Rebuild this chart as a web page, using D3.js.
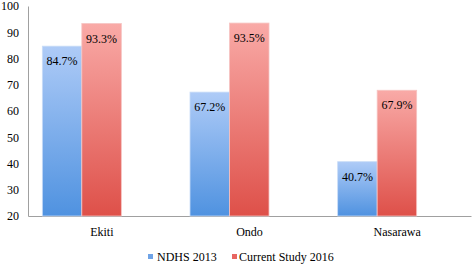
<!DOCTYPE html>
<html>
<head>
<meta charset="utf-8">
<script src="https://cdn.jsdelivr.net/npm/d3@7"></script>
<style>
  body { margin: 0; background: #fff; }
  svg { display: block; }
  svg text { font-family: "Liberation Serif", "Times New Roman", serif; }
</style>
</head>
<body>
<div id="chart"></div>
<script>
const categories = ["Ekiti", "Ondo", "Nasarawa"];
const seriesNames = ["NDHS 2013", "Current Study 2016"];
const ndhs2013 = [84.7, 67.2, 40.7];
const study2016 = [93.3, 93.5, 67.9];
const yTicks = [20, 30, 40, 50, 60, 70, 80, 90, 100];

const width = 472, height = 266;
const margin = {top: 6, right: 1, bottom: 50, left: 28};
const serif = "Liberation Serif";
const fontSize = 12;

const svg = d3.select("#chart").append("svg")
    .attr("width", width)
    .attr("height", height);

const defs = svg.append("defs");
const gradients = [
    {id: "gBlue", top: "#aecbf7", bottom: "#4f92e0"},
    {id: "gRed", top: "#f9aaa7", bottom: "#de5049"}
];
gradients.forEach(g => {
    const lg = defs.append("linearGradient").attr("id", g.id)
        .attr("x1", 0).attr("y1", 0).attr("x2", 0).attr("y2", 1);
    lg.append("stop").attr("offset", "0%").attr("stop-color", g.top);
    lg.append("stop").attr("offset", "100%").attr("stop-color", g.bottom);
});
const fills = ["url(#gBlue)", "url(#gRed)"];
const strokes = ["#c9dcf7", "#f6c4c2"];

const x = d3.scaleBand()
    .domain(categories)
    .range([margin.left, width - margin.right]);

const y = d3.scaleLinear()
    .domain([20, 100])
    .range([height - margin.bottom, margin.top]);

// group of bars sits a bit left of the category centre, like the original
const groupWidth = 79;
const shift = -20;
const xs = d3.scaleBand()
    .domain(seriesNames)
    .range([0, groupWidth]);

// y axis
const yAxis = svg.append("g")
    .attr("transform", `translate(${margin.left},0)`)
    .call(d3.axisLeft(y).tickValues(yTicks).tickSize(0).tickPadding(9));
yAxis.attr("font-family", serif);
yAxis.select(".domain").attr("stroke", "#a0a0a0");
yAxis.selectAll("text").attr("font-size", fontSize).attr("fill", "#000");

// x axis
const xAxis = svg.append("g")
    .attr("transform", `translate(0,${y(20)})`)
    .call(d3.axisBottom(x).tickSize(0).tickPadding(11));
xAxis.attr("font-family", serif);
xAxis.select(".domain").attr("stroke", "#a0a0a0");
xAxis.selectAll("text").attr("font-size", fontSize).attr("fill", "#000");

const data = categories.map((c, i) => ({
    category: c,
    values: [ndhs2013[i], study2016[i]]
}));

const groups = svg.selectAll(".grp")
    .data(data)
    .enter().append("g")
    .attr("class", "grp")
    .attr("transform", d => `translate(${x(d.category) + x.bandwidth() / 2 - groupWidth / 2 + shift},0)`);

groups.selectAll("rect")
    .data(d => d.values.map((v, j) => ({series: seriesNames[j], value: v, j: j})))
    .enter().append("rect")
    .attr("x", d => xs(d.series))
    .attr("y", d => y(d.value))
    .attr("width", xs.bandwidth())
    .attr("height", d => y(20) - y(d.value))
    .attr("fill", d => fills[d.j])
    .attr("stroke", d => strokes[d.j])
    .attr("stroke-width", 0.8);

groups.selectAll("text.val")
    .data(d => d.values.map((v, j) => ({series: seriesNames[j], value: v})))
    .enter().append("text")
    .attr("class", "val")
    .attr("x", d => xs(d.series) + xs.bandwidth() / 2)
    .attr("y", d => y(d.value) + 19)
    .attr("text-anchor", "middle")
    .attr("font-family", serif)
    .attr("font-size", fontSize)
    .attr("fill", "#000")
    .text(d => d.value.toFixed(1) + "%");

// legend
const legendX = [148, 232];
const legendY = 261;
const legend = svg.selectAll(".leg")
    .data(seriesNames)
    .enter().append("g")
    .attr("class", "leg")
    .attr("transform", (d, i) => `translate(${legendX[i]},${legendY})`);
legend.append("rect")
    .attr("x", 0).attr("y", -7)
    .attr("width", 5).attr("height", 5)
    .attr("fill", (d, i) => i === 0 ? "#6fa3e6" : "#e86662");
legend.append("text")
    .attr("x", (d, i) => i === 0 ? 9 : 7)
    .attr("y", 0)
    .attr("font-family", serif)
    .attr("font-size", fontSize)
    .attr("fill", "#000")
    .text(d => d);
</script>
</body>
</html>
